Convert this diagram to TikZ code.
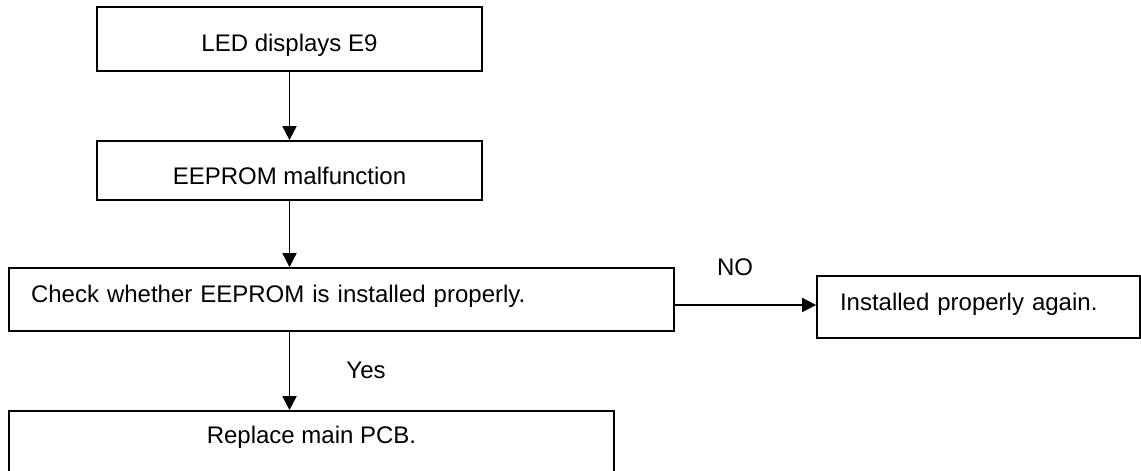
\documentclass[tikz,border=0pt]{standalone}
\usepackage{fontspec}
\setmainfont{Liberation Sans}
\usetikzlibrary{arrows.meta,positioning}

\begin{document}
\begin{tikzpicture}[
    x=1pt,y=-1pt,
    box/.style={draw=black,line width=1.7pt,inner sep=0pt,
      font=\fontsize{24}{28}\selectfont},
    lbl/.style={inner sep=0pt,text height=17.2pt,text depth=0pt,
      font=\fontsize{24}{28}\selectfont},
    arrow/.style={-{Triangle[length=14pt,width=14pt]},draw=black,line width=1.7pt}
  ]
    \useasboundingbox (0,0) rectangle (1141,471);
    \node[box,minimum width=385pt,minimum height=64pt,text height=24pt,text depth=0pt] (led) at (289.5,39) {LED displays E9};
    \node[box,minimum width=385pt,minimum height=59pt,text height=27pt,text depth=0pt] (eep) at (289.5,170.5) {EEPROM malfunction};
    \node[box,text width=621pt,inner xsep=22pt,align=left,minimum height=63pt,text height=17pt,text depth=11pt] (chk) at (341.5,299.5) {Check whether EEPROM is installed properly.};
    \node[box,text width=277pt,inner xsep=23pt,align=left,minimum height=62pt,text height=17pt,text depth=11pt] (fix) at (978.5,307) {Installed properly again.};
    \node[box,minimum width=605pt,minimum height=66pt,text height=16pt,text depth=17pt] (pcb) at (311.5,444) {Replace main PCB.};
    \node[lbl] (no) at (735,267) {NO};
    \node[lbl] (yes) at (366,369.5) {Yes};
    \draw[arrow] (led)--(eep);
    \draw[arrow] (eep.south)--(eep.south |- chk.north);
    \draw[arrow] (chk.south -| eep.south)--(pcb.north -| eep.south);
    \draw[arrow] ([yshift=-5.5pt]chk.east)--([yshift=-5.5pt]chk.east -| fix.west);
  \end{tikzpicture}
\end{document}
